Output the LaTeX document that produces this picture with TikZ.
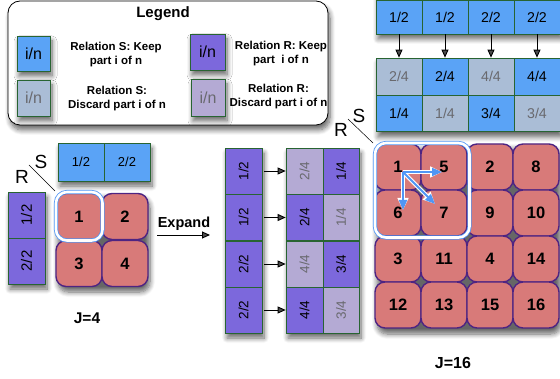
\documentclass[tikz,border=0pt]{standalone}
\usepackage{fontspec}
\setmainfont{Liberation Sans}
\usetikzlibrary{arrows.meta,shadows.blur}

\definecolor{skeep}{RGB}{90,163,246}
\definecolor{sdrop}{RGB}{170,189,214}
\definecolor{rkeep}{RGB}{124,104,220}
\definecolor{rdrop}{RGB}{180,170,212}
\definecolor{cellred}{RGB}{216,122,121}
\definecolor{cellrim}{RGB}{78,36,130}
\definecolor{boxrim}{RGB}{40,100,50}
\definecolor{hiblue}{RGB}{80,150,245}
\definecolor{dimtext}{RGB}{105,105,110}

\tikzset{
  part/.style={draw=boxrim, line width=0.7pt, inner sep=0pt, minimum width=46pt, minimum height=37pt},
  skp/.style={part, fill=skeep},
  sdc/.style={part, fill=sdrop, text=dimtext},
  rkp/.style={part, fill=rkeep},
  rdc/.style={part, fill=rdrop, text=dimtext},
  vert/.style={minimum width=46pt, minimum height=37pt, rotate=90},
  cell/.style={draw=cellrim, line width=1.4pt, fill=cellred, rounded corners=10pt,
    minimum size=46pt, inner sep=0pt, font=\bfseries\fontsize{16.5}{18}\selectfont},
  hilite/.style={draw=hiblue, double=white, double distance=2.6pt, line width=0.8pt, rounded corners=11pt},
  shade/.style={blur shadow={shadow xshift=2pt, shadow yshift=-5pt, shadow blur steps=8,
    shadow blur radius=5pt, shadow opacity=60}},
  legtext/.style={font=\bfseries\fontsize{11.5}{14.5}\selectfont, align=center},
  blk/.style={-{Triangle[length=8pt,width=7pt]}, line width=0.9pt},
  bluearrow/.style={-{Triangle[length=10pt,width=8pt]}, draw=hiblue, line width=1.8pt},
  whitearrow/.style={-{Triangle[length=12pt,width=10.5pt]}, draw=white, line width=4pt},
  small/.style={font=\fontsize{13}{15}\selectfont},
  mid/.style={font=\fontsize{13.5}{15}\selectfont},
  big/.style={font=\fontsize{14.2}{16}\selectfont},
  lbl/.style={font=\fontsize{19}{21}\selectfont, inner sep=0pt},
  heading/.style={font=\bfseries\fontsize{15.5}{18}\selectfont},
}

\begin{document}
\begin{tikzpicture}[x=1pt,y=-1pt]
\useasboundingbox (0,0) rectangle (560,379);

% ---- legend ----
\draw[rounded corners=12pt, line width=0.8pt, fill=white, shade] (8,1) rectangle (328,125);
\node[font=\bfseries\fontsize{15}{17}\selectfont] (legtitle) at (163,14) {Legend};
\path[shade] (17,36) rectangle (50,71);
\path[shade] (17,80) rectangle (50,116);
\path[shade] (190,34) rectangle (225,70);
\path[shade] (191,79) rectangle (225,116);
\node[skp, minimum width=33pt, minimum height=35pt, font=\fontsize{16}{18}\selectfont] (lsk) at (33.5,53.5) {i/n};
\node[sdc, minimum width=33pt, minimum height=36pt, font=\fontsize{16}{18}\selectfont] (lsd) at (33.5,98) {i/n};
\node[rkp, minimum width=35pt, minimum height=36pt, font=\fontsize{16}{18}\selectfont] (lrk) at (207.5,52) {i/n};
\node[rdc, minimum width=34pt, minimum height=37pt, font=\fontsize{16}{18}\selectfont] (lrd) at (208,97.5) {i/n};
\node[legtext] (tsk) at (116,54.5) {Relation S: Keep\\part i of n};
\node[legtext] (tsd) at (117,98.5) {Relation S:\\Discard part i of n};
\node[legtext] (trk) at (281,53.5) {Relation R: Keep\\part\ \ i of n};
\node[legtext] (trd) at (278.5,96.5) {Relation R:\\Discard part i of n};

% ---- J=4 ----
\path[shade] (58,143) rectangle (150,181);
\path[shade] (8,192) rectangle (45,284);
\node[skp, small, minimum height=38pt] (s1) at (81,162) {1/2};
\node[skp, small, minimum height=38pt] (s2) at (127,162) {2/2};
\node[rkp, vert, font=\fontsize{15}{17}\selectfont] (r1) at (26.5,215) {1/2};
\node[rkp, vert, font=\fontsize{15}{17}\selectfont] (r2) at (26.5,261) {2/2};
\node[lbl] (lS) at (41,162) {S};
\node[lbl] (lR) at (22,177) {R};
\coordinate (d1a) at (29,165);
\coordinate (d1b) at (55,191);
\draw[line width=0.5pt] (d1a) -- (d1b);
\path[shade, rounded corners=10pt] (56,193) rectangle (148,287);
\node[cell] (c1) at (79,216.5) {1};
\node[cell] (c2) at (125,216.5) {2};
\node[cell] (c3) at (79,263.5) {3};
\node[cell] (c4) at (125,263.5) {4};
\draw[hilite] (56,192) rectangle (102.5,240.5);
\node[heading, font=\bfseries\fontsize{14.5}{17}\selectfont] (expand) at (184,224) {Expand};
\coordinate (ea) at (157,235);
\coordinate (eb) at (210,235);
\draw[blk] (ea) -- (eb);
\node[heading] (j4) at (87,318) {J=4};

% ---- expanded R ----
\path[shade] (225,148) rectangle (262,333);
\path[shade] (286,148) rectangle (359,333);
\node[rkp, vert, mid] (er1) at (243.5,171) {1/2};
\node[rkp, vert, mid] (er2) at (243.5,217.5) {1/2};
\node[rkp, vert, mid] (er3) at (243.5,264) {2/2};
\node[rkp, vert, mid] (er4) at (243.5,310) {2/2};
\node[rdc, vert, mid, minimum height=37pt] (ea1) at (304.5,171) {2/4};
\node[rkp, vert, mid, minimum height=36pt] (eb1) at (341,171) {1/4};
\node[rkp, vert, mid, minimum height=37pt] (ea2) at (304.5,217.5) {2/4};
\node[rdc, vert, mid, minimum height=36pt] (eb2) at (341,217.5) {1/4};
\node[rdc, vert, mid, minimum height=37pt] (ea3) at (304.5,264) {4/4};
\node[rkp, vert, mid, minimum height=36pt] (eb3) at (341,264) {3/4};
\node[rkp, vert, mid, minimum height=37pt] (ea4) at (304.5,310) {4/4};
\node[rdc, vert, mid, minimum height=36pt] (eb4) at (341,310) {3/4};
\foreach \i in {1,...,4} {
  \draw[blk] ([xshift=2pt]er\i.south) -- (ea\i.north);
}

% ---- expanded S ----
\path[shade] (376,-5) rectangle (560,34);
\path[shade] (376,58) rectangle (560,132);
\foreach \x/\t [count=\i] in {399/1\slash2,445/1\slash2,491/2\slash2,537/2\slash2} {
  \node[skp, big, minimum height=34pt] (es\i) at (\x,17) {\t};
}
\node[sdc, big] (ta1) at (399,76.5) {2/4};
\node[skp, big] (ta2) at (445,76.5) {2/4};
\node[sdc, big] (ta3) at (491,76.5) {4/4};
\node[skp, big] (ta4) at (537,76.5) {4/4};
\node[skp, big, minimum height=36pt] (tb1) at (399,113.5) {1/4};
\node[sdc, big, minimum height=36pt] (tb2) at (445,113.5) {1/4};
\node[skp, big, minimum height=36pt] (tb3) at (491,113.5) {3/4};
\node[sdc, big, minimum height=36pt] (tb4) at (537,113.5) {3/4};
\foreach \i in {1,...,4} {
  \draw[blk] (es\i.south) -- (ta\i.north);
}

% ---- J=16 ----
\node[lbl] (bS) at (359,116) {S};
\node[lbl] (bR) at (341,130) {R};
\coordinate (d2a) at (348,119);
\coordinate (d2b) at (373,143);
\draw[line width=0.5pt] (d2a) -- (d2b);
\path[shade, rounded corners=10pt] (375,144) rectangle (559,329);
\foreach \n [count=\k from 0] in {1,5,2,8,6,7,9,10,3,11,4,14,12,13,15,16} {
  \pgfmathtruncatemacro{\col}{mod(\k,4)}
  \pgfmathtruncatemacro{\row}{div(\k,4)}
  \node[cell] (g\n) at (398+46*\col,167+46*\row) {\n};
}
\draw[hilite] (375,143) rectangle (469.5,237.5);
\coordinate (o) at (403,172);
\coordinate (pr) at (442,172);
\coordinate (pd) at (403,210);
\coordinate (pg) at (435,204);
\foreach \p in {pr,pd,pg} { \draw[whitearrow] (o) -- (\p); }
\foreach \p in {pr,pd,pg} { \draw[bluearrow] (o) -- (\p); }
\node[heading, font=\bfseries\fontsize{16}{18}\selectfont] (j16) at (453,363) {J=16};
\end{tikzpicture}
\end{document}
